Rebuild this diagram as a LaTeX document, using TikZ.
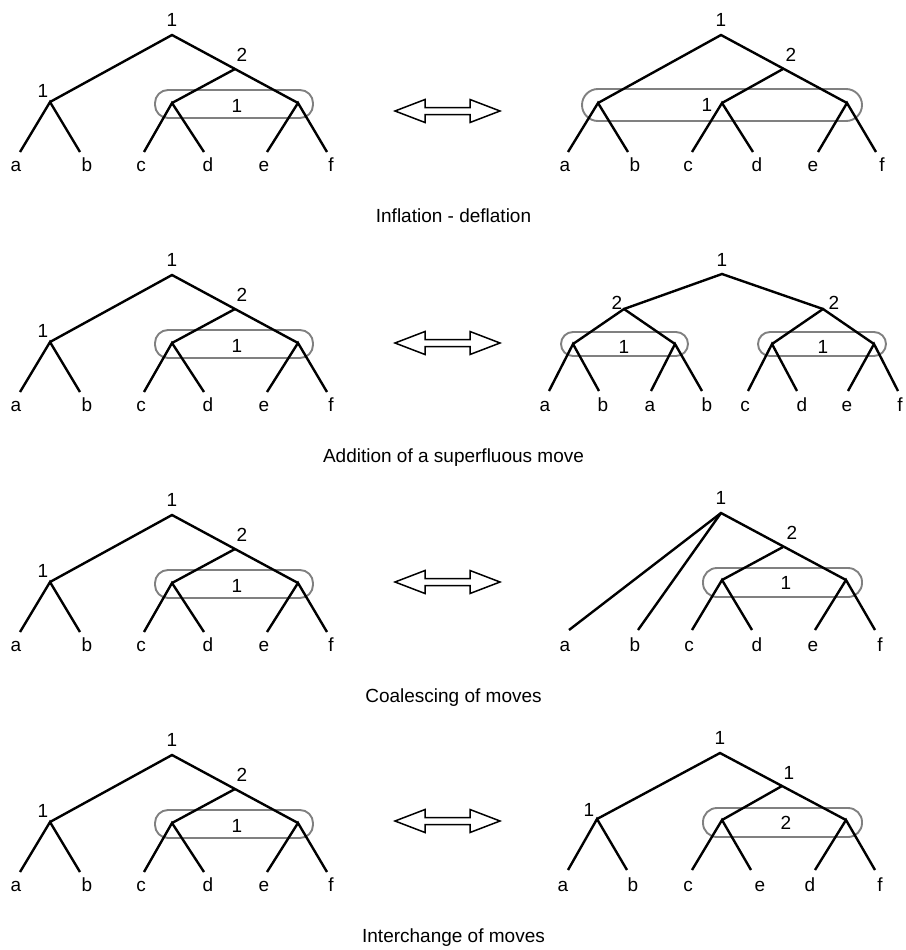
\documentclass[tikz,border=0pt]{standalone}
\usepackage{fontspec}
\setmainfont{Liberation Sans}
\newcommand\LeftTreeP[1]{%
  \coordinate (#1r) at (172,35);
  \coordinate (#1n2) at (235,69);
  \coordinate (#1nl) at (50,102);
  \coordinate (#1ncd) at (172,103);
  \coordinate (#1nef) at (298,103);
  \coordinate (#1a) at (20,152);
  \coordinate (#1b) at (80,152);
  \coordinate (#1c) at (144,152);
  \coordinate (#1d) at (204,152);
  \coordinate (#1e) at (267,152);
  \coordinate (#1f) at (327,152);
  \draw[grp] (155,90) rectangle (313,118);
  \draw[edge] (#1nl) -- (#1r) -- (#1nef);
  \draw[edge] (#1ncd) -- (#1n2);
  \draw[edge] (#1a) -- (#1nl) -- (#1b);
  \draw[edge] (#1c) -- (#1ncd) -- (#1d);
  \draw[edge] (#1e) -- (#1nef) -- (#1f);
  \node[lbl] (#1Lr) at (172,20) {1};
  \node[lbl] (#1L2) at (242,55) {2};
  \node[lbl] (#1Ll) at (43,91) {1};
  \node[lbl] (#1Lbox) at (237,106) {1};
  \node[leaf] (#1La) at (16,171) {a};
  \node[leaf] (#1Lb) at (87,171) {b};
  \node[leaf] (#1Lc) at (141,171) {c};
  \node[leaf] (#1Ld) at (208,171) {d};
  \node[leaf] (#1Le) at (264,171) {e};
  \node[leaf] (#1Lf) at (331,171) {f};
}
\newcommand\DblArrowP[1]{%
  \begin{scope}[shift={(447.5,#1)}]
    \draw[dbl] (-52.5,0) -- (-22.5,-11.5) -- (-22.5,-3.5) -- (22.5,-3.5) -- (22.5,-11.5)
      -- (52.5,0) -- (22.5,11.5) -- (22.5,3.5) -- (-22.5,3.5) -- (-22.5,11.5) -- cycle;
  \end{scope}
}
\begin{document}
\begin{tikzpicture}[x=1pt,y=-1pt,
  edge/.style={line width=2.4pt},
  lbl/.style={font=\fontsize{19}{22}\selectfont, inner sep=0pt},
  leaf/.style={lbl, anchor=base},
  grp/.style={draw=black!50, line width=1.9pt, rounded corners=13pt},
  dbl/.style={draw=black, line width=1.5pt, fill=white, line join=miter}]
\useasboundingbox (0,0) rectangle (905,950);

% ---------- Panel 1 ----------
\LeftTreeP{pA}
\DblArrowP{111}
\coordinate (qAr) at (721,35);
\coordinate (qAn2) at (783,69);
\coordinate (qAnl) at (598,103);
\coordinate (qAnm) at (722,103);
\coordinate (qAnr) at (847,103);
\coordinate (qAa) at (568,152);
\coordinate (qAb) at (628,152);
\coordinate (qAc) at (692,152);
\coordinate (qAd) at (753,152);
\coordinate (qAe) at (818,152);
\coordinate (qAf) at (876,152);
\draw[grp, rounded corners=16pt] (582,89) rectangle (862,121);
\draw[edge] (qAnl) -- (qAr) -- (qAnr);
\draw[edge] (qAnm) -- (qAn2);
\draw[edge] (qAa) -- (qAnl) -- (qAb);
\draw[edge] (qAc) -- (qAnm) -- (qAd);
\draw[edge] (qAe) -- (qAnr) -- (qAf);
\node[lbl] (qALr) at (721,20) {1};
\node[lbl] (qAL2) at (791,55) {2};
\node[lbl] (qALm) at (707,105) {1};
\node[leaf] (qALa) at (565,171) {a};
\node[leaf] (qALb) at (635,171) {b};
\node[leaf] (qALc) at (688,171) {c};
\node[leaf] (qALd) at (757,171) {d};
\node[leaf] (qALe) at (813,171) {e};
\node[leaf] (qALf) at (882,171) {f};
\node[lbl, anchor=base] (capA) at (453.5,222) {Inflation - deflation};

% ---------- Panel 2 ----------
\begin{scope}[shift={(0,240)}]
\LeftTreeP{pB}
\coordinate (qBr) at (722,34);
\coordinate (qBl2) at (624,69);
\coordinate (qBr2) at (823,69);
\coordinate (qBs1) at (573,104);
\coordinate (qBs2) at (675,104);
\coordinate (qBs3) at (772,104);
\coordinate (qBs4) at (874,104);
\coordinate (qBa) at (549,151);
\coordinate (qBb) at (599,151);
\coordinate (qBa2) at (651,151);
\coordinate (qBb2) at (702,151);
\coordinate (qBc) at (748,151);
\coordinate (qBd) at (797,151);
\coordinate (qBe) at (848,151);
\coordinate (qBf) at (898,151);
\draw[grp, rounded corners=12pt] (561,92) rectangle (688,116);
\draw[grp, rounded corners=12pt] (758,92) rectangle (886,116);
\draw[edge] (qBl2) -- (qBr) -- (qBr2);
\draw[edge] (qBs1) -- (qBl2) -- (qBs2);
\draw[edge] (qBs3) -- (qBr2) -- (qBs4);
\draw[edge] (qBa) -- (qBs1) -- (qBb);
\draw[edge] (qBa2) -- (qBs2) -- (qBb2);
\draw[edge] (qBc) -- (qBs3) -- (qBd);
\draw[edge] (qBe) -- (qBs4) -- (qBf);
\node[lbl] (qBLr) at (722,20) {1};
\node[lbl] (qBLl2) at (617,63) {2};
\node[lbl] (qBLr2) at (834,63) {2};
\node[lbl] (qBLb1) at (624,107) {1};
\node[lbl] (qBLb2) at (823,107) {1};
\node[leaf] (qBLa) at (545,171) {a};
\node[leaf] (qBLb) at (603,171) {b};
\node[leaf] (qBLa2) at (650,171) {a};
\node[leaf] (qBLb2) at (707,171) {b};
\node[leaf] (qBLc) at (745,171) {c};
\node[leaf] (qBLd) at (802,171) {d};
\node[leaf] (qBLe) at (847,171) {e};
\node[leaf] (qBLf) at (900,171) {f};
\node[lbl, anchor=base] (capB) at (453.5,222) {Addition of a superfluous move};
\end{scope}
\DblArrowP{343}

% ---------- Panel 3 ----------
\begin{scope}[shift={(0,480)}]
\LeftTreeP{pC}
\coordinate (qCr) at (721,33);
\coordinate (qCn2) at (783,67);
\coordinate (qCncd) at (722,100);
\coordinate (qCnef) at (846,100);
\coordinate (qCa) at (569,150);
\coordinate (qCb) at (638,150);
\coordinate (qCc) at (692,150);
\coordinate (qCd) at (752,150);
\coordinate (qCe) at (815,150);
\coordinate (qCf) at (875,150);
\draw[grp, rounded corners=14pt] (703,88) rectangle (862,117);
\draw[edge] (qCa) -- (qCr) -- (qCnef);
\draw[edge] (qCb) -- (qCr);
\draw[edge] (qCncd) -- (qCn2);
\draw[edge] (qCc) -- (qCncd) -- (qCd);
\draw[edge] (qCe) -- (qCnef) -- (qCf);
\node[lbl] (qCLr) at (721,18) {1};
\node[lbl] (qCL2) at (792,53) {2};
\node[lbl] (qCLbox) at (786,103) {1};
\node[leaf] (qCLa) at (565,171) {a};
\node[leaf] (qCLb) at (635,171) {b};
\node[leaf] (qCLc) at (689,171) {c};
\node[leaf] (qCLd) at (757,171) {d};
\node[leaf] (qCLe) at (813,171) {e};
\node[leaf] (qCLf) at (880,171) {f};
\node[lbl, anchor=base] (capC) at (453.5,222) {Coalescing of moves};
\end{scope}
\DblArrowP{582}

% ---------- Panel 4 ----------
\begin{scope}[shift={(0,720)}]
\LeftTreeP{pD}
\coordinate (qDr) at (720,33);
\coordinate (qDn1r) at (782,66);
\coordinate (qDn1l) at (597,99);
\coordinate (qDncd) at (722,100);
\coordinate (qDnef) at (846,100);
\coordinate (qDa) at (568,150);
\coordinate (qDb) at (627,150);
\coordinate (qDc) at (692,150);
\coordinate (qDe) at (751,150);
\coordinate (qDd) at (815,150);
\coordinate (qDf) at (875,150);
\draw[grp, rounded corners=14pt] (703,88) rectangle (862,117);
\draw[edge] (qDn1l) -- (qDr) -- (qDnef);
\draw[edge] (qDncd) -- (qDn1r);
\draw[edge] (qDa) -- (qDn1l) -- (qDb);
\draw[edge] (qDc) -- (qDncd) -- (qDe);
\draw[edge] (qDd) -- (qDnef) -- (qDf);
\node[lbl] (qDLr) at (720,18) {1};
\node[lbl] (qDL1r) at (789,53) {1};
\node[lbl] (qDL1l) at (589,90) {1};
\node[lbl] (qDLbox) at (786,103) {2};
\node[leaf] (qDLa) at (563,171) {a};
\node[leaf] (qDLb) at (633,171) {b};
\node[leaf] (qDLc) at (688,171) {c};
\node[leaf] (qDLe) at (760,171) {e};
\node[leaf] (qDLd) at (810,171) {d};
\node[leaf] (qDLf) at (880,171) {f};
\node[lbl, anchor=base] (capD) at (453.5,222) {Interchange of moves};
\end{scope}
\DblArrowP{821}
\end{tikzpicture}
\end{document}
